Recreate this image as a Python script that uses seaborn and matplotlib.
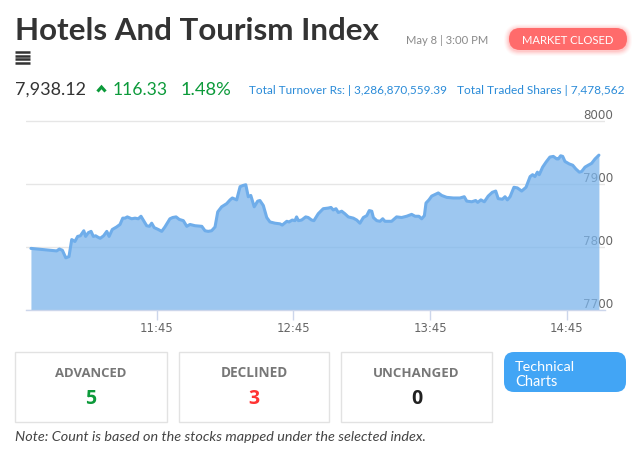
import matplotlib
matplotlib.use("Agg")
import matplotlib.pyplot as plt
import seaborn as sns
from matplotlib.patches import FancyBboxPatch, Rectangle
from matplotlib.transforms import ScaledTranslation

# ---------------- data ----------------
minutes_after_open = [
    -10.2, 1.1, 2.3, 3.6, 5.1, 6.5, 7.7, 9.1, 10.3, 11.5,
    13.0, 13.8, 15.0, 16.2, 17.2, 18.2, 19.1, 20.2, 21.7, 23.1,
    24.1, 25.5, 27.4, 28.9, 30.1, 31.1,
    32.1, 34.0, 35.5, 36.9, 38.1, 39.1, 40.6, 41.8, 42.8, 43.9,
    45.7, 47.2, 48.6, 50.8, 52.0, 53.5, 54.9, 56.7, 58.2, 59.6,
    61.8, 64.8, 66.2, 67.6, 69.1, 70.6,
    71.8, 73.5, 75.7, 77.2, 78.2, 80.1, 81.6, 83.0, 84.1, 85.2,
    86.3, 87.8, 89.3, 90.3, 91.8, 93.3, 94.7, 96.9, 99.1, 100.1,
    102.1, 103.1, 104.5, 105.7, 106.4, 107.2, 108.6, 110.4, 111.5, 113.0,
    114.0,
    115.9, 118.1, 120.3, 121.5, 122.5, 123.7, 124.7, 126.2, 127.6, 129.1,
    131.3, 132.8, 134.2, 135.7, 137.2, 138.3, 139.4, 140.1, 141.6, 143.0,
    144.2, 145.2, 148.1, 150.3, 152.5, 154.7,
    156.9, 158.4, 160.1, 161.3, 162.5, 163.2, 164.5, 165.7, 167.5, 168.6,
    170.1, 172.3, 175.2, 178.1, 180.0, 181.1, 183.3, 185.0, 185.9, 187.3,
    188.8, 190.5, 192.3, 193.8, 194.9, 196.7,
    197.9, 198.9, 200.1, 201.8, 203.3, 205.2, 207.1, 208.9, 210.0, 211.0,
    212.1, 212.9, 214.4, 215.9, 217.6, 219.1, 220.6, 221.3, 222.3, 223.2,
    224.2, 226.1, 227.6, 229.0, 230.5, 231.5, 233.0, 234.4, 235.9, 237.4,
    239.1,
]
index_values = [
    7797, 7793, 7796, 7794, 7782, 7784, 7811, 7808, 7816, 7817,
    7825, 7816, 7822, 7824, 7816, 7817, 7815, 7813, 7817, 7824,
    7816, 7827, 7831, 7835, 7845, 7845,
    7847, 7844, 7845, 7844, 7848, 7842, 7833, 7832, 7837, 7830,
    7827, 7824, 7831, 7844, 7846, 7847, 7843, 7841, 7832, 7835,
    7833, 7832, 7825, 7824, 7825, 7831,
    7855, 7863, 7868, 7874, 7877, 7874, 7895, 7897, 7898, 7879,
    7881, 7863, 7872, 7873, 7865, 7846, 7839, 7837, 7836, 7834,
    7840, 7839, 7842, 7841, 7847, 7841, 7842, 7847, 7846, 7842,
    7841,
    7852, 7860, 7861, 7862, 7858, 7860, 7854, 7856, 7852, 7847,
    7845, 7842, 7837, 7846, 7849, 7857, 7856, 7846, 7841, 7840,
    7844, 7840, 7840, 7847, 7846, 7848,
    7851, 7848, 7848, 7844, 7849, 7869, 7874, 7880, 7883, 7885,
    7881, 7878, 7877, 7877, 7879, 7872, 7871, 7873, 7870, 7874,
    7871, 7880, 7886, 7888, 7876, 7875,
    7879, 7874, 7879, 7894, 7893, 7888, 7894, 7911, 7914, 7911,
    7918, 7914, 7926, 7934, 7942, 7943, 7939, 7939, 7944, 7943,
    7935, 7931, 7929, 7923, 7918, 7919, 7926, 7929, 7932, 7939,
    7945,
]
market_open = "11:00"
x_tick_labels = ["11:45", "12:45", "13:45", "14:45"]
y_ticks = [7700, 7800, 7900, 8000]

title = "Hotels And Tourism Index"
date_text = "May 8 | 3:00 PM"
status_text = "MARKET CLOSED"
last_value = "7,938.12"
change_value = "116.33"
change_pct = "1.48%"
turnover_text = "Total Turnover Rs: | 3,286,870,559.39"
shares_text = "Total Traded Shares | 7,478,562"
breadth_labels = ["ADVANCED", "DECLINED", "UNCHANGED"]
breadth_counts = ["5", "3", "0"]
note_text = "Note: Count is based on the stocks mapped under the selected index."

# ---------------- figure ----------------
W, H = 634, 467
sns.set_theme(style="white")
plt.rcParams["font.family"] = ["Lato", "DejaVu Sans"]
fig = plt.figure(figsize=(W / 100, H / 100), dpi=100)
fig.patch.set_facecolor("white")

def to_min(s):
    h, m = s.split(":")
    return int(h) * 60 + int(m)

open_min = to_min(market_open)
x_ticks = [to_min(s) - open_min for s in x_tick_labels]

# chart axes: px positions of plot box
px_left, px_right = 26, 605
px_bottom = 309.5
ppu = 0.63  # px per index point
y_lo, y_hi = 7700, 8010
px_top = px_bottom - (y_hi - y_lo) * ppu
ax = fig.add_axes([px_left / W, (H - px_bottom) / H, (px_right - px_left) / W,
                   (px_bottom - px_top) / H])
ppm = 2.2783  # px per minute
x_at_1145 = 156.7
xmin = (to_min("11:45") - open_min) + (px_left - x_at_1145) / ppm
xmax = (to_min("11:45") - open_min) + (px_right - x_at_1145) / ppm

line_color = "#7cb5ec"
ax.fill_between(minutes_after_open, index_values, y_lo, color=line_color,
                alpha=0.75, linewidth=0, zorder=1.5)
sns.lineplot(x=minutes_after_open, y=index_values, ax=ax, color="#6fadea",
             linewidth=2.2, zorder=3)
ax.set_xlim(xmin, xmax)
ax.set_ylim(y_lo, y_hi)
ax.set_xlabel("")
ax.set_ylabel("")
ax.set_facecolor("white")
ax.set_axisbelow(True)
ax.yaxis.grid(True, color="#e6e6e6", linewidth=1)
ax.xaxis.grid(False)
for s in ["top", "left", "right"]:
    ax.spines[s].set_visible(False)
ax.spines["bottom"].set_color("#ccd6eb")
ax.spines["bottom"].set_linewidth(1)
ax.spines["bottom"].set_zorder(4)

ax.set_xticks(x_ticks)
ax.set_xticklabels(x_tick_labels, family="DejaVu Sans")
ax.tick_params(axis="x", length=7.5, width=1, color="#ccd6eb", labelcolor="#666666",
               labelsize=8.4, pad=1.5, bottom=True)
ax.set_yticks(y_ticks)
ax.set_yticklabels([str(v) for v in y_ticks], family="DejaVu Sans")
ax.yaxis.tick_right()
ax.tick_params(axis="y", length=0, labelcolor="#666666", labelsize=8.6, pad=5.8,
               right=False, left=False)
for lab in ax.get_yticklabels():
    lab.set_horizontalalignment("right")
    lab.set_transform(lab.get_transform() + ScaledTranslation(0, 0.065, fig.dpi_scale_trans))

# ---------------- overlay for page elements ----------------
ov = fig.add_axes([0, 0, 1, 1], zorder=-1)
ov.set_xlim(0, W)
ov.set_ylim(H, 0)
ov.axis("off")
fig.canvas.draw()
renderer = fig.canvas.get_renderer()

def fit_text(x, y, s, width, ha="left", va="baseline", **kw):
    t = ov.text(x, y, s, fontsize=10, ha=ha, va=va, **kw)
    w = t.get_window_extent(renderer=renderer).width
    t.set_fontsize(10 * width / w)
    return t

dark = "#333333"
green = "#0c9a3a"
blue = "#2a8bd8"

fit_text(15, 39.5, title, 366, color=dark, fontweight="bold")
# menu icon
ov.hlines([51.7, 55.5, 59.3, 63.2], 14.5, 30, color=dark, linewidth=1.8)
fit_text(406, 44, date_text, 82, color="#8a8a8a")

# MARKET CLOSED pill with glow
for i, a in enumerate([0.04, 0.06, 0.08, 0.10, 0.13]):
    g = 5 - i
    ov.add_patch(FancyBboxPatch((509 - g, 28 - g + 1), 118 + 2 * g, 22 + 2 * g,
                                boxstyle=f"round,pad=0,rounding_size={11 + g}",
                                facecolor="#ff6b6b", edgecolor="none", alpha=a))
ov.add_patch(FancyBboxPatch((509, 28), 118, 22, boxstyle="round,pad=0,rounding_size=11",
                            facecolor="#ff6b6b", edgecolor="none"))
fit_text(568, 43.5, status_text, 91, ha="center", color="white")

fit_text(15, 95, last_value, 71, color=dark)
ov.plot([97.5, 101.5, 105.5], [91.5, 87.0, 91.5], color=green, lw=2.2,
        solid_capstyle="butt", solid_joinstyle="miter")
fit_text(113, 95, change_value, 55, color=green)
fit_text(181, 95, change_pct, 51, color=green)
fit_text(249, 93.5, turnover_text, 198, color=blue)
fit_text(457, 93.5, shares_text, 168, color=blue)

# breadth boxes
boxes = [(15, 167), (179, 329), (341, 492)]
count_colors = [green, "#ff3333", "#222222"]
label_widths = [72, 67, 86]
for (x0, x1), lab, cnt, cc, lw_ in zip(boxes, breadth_labels, breadth_counts,
                                        count_colors, label_widths):
    ov.add_patch(Rectangle((x0, 352), x1 - x0, 70, facecolor="white",
                           edgecolor="#e2e2e2", linewidth=1))
    cx = (x0 + x1) / 2
    fit_text(cx, 377, lab, lw_, ha="center", color="#777777", fontweight="bold",
             family="Open Sans")
    ov.text(cx, 404, cnt, ha="center", va="baseline", fontsize=14,
            fontweight="bold", color=cc, family="Open Sans")

ov.add_patch(FancyBboxPatch((504, 352), 122, 40, boxstyle="round,pad=0,rounding_size=10",
                            facecolor="#42a5f5", edgecolor="none"))
fit_text(515, 371, "Technical", 60, color="white")
fit_text(515, 386, "Charts", 42, color="white")

fit_text(15, 441, note_text, 410, color="#444444", style="italic")

fig.savefig("out.png", dpi=100, facecolor="white")
